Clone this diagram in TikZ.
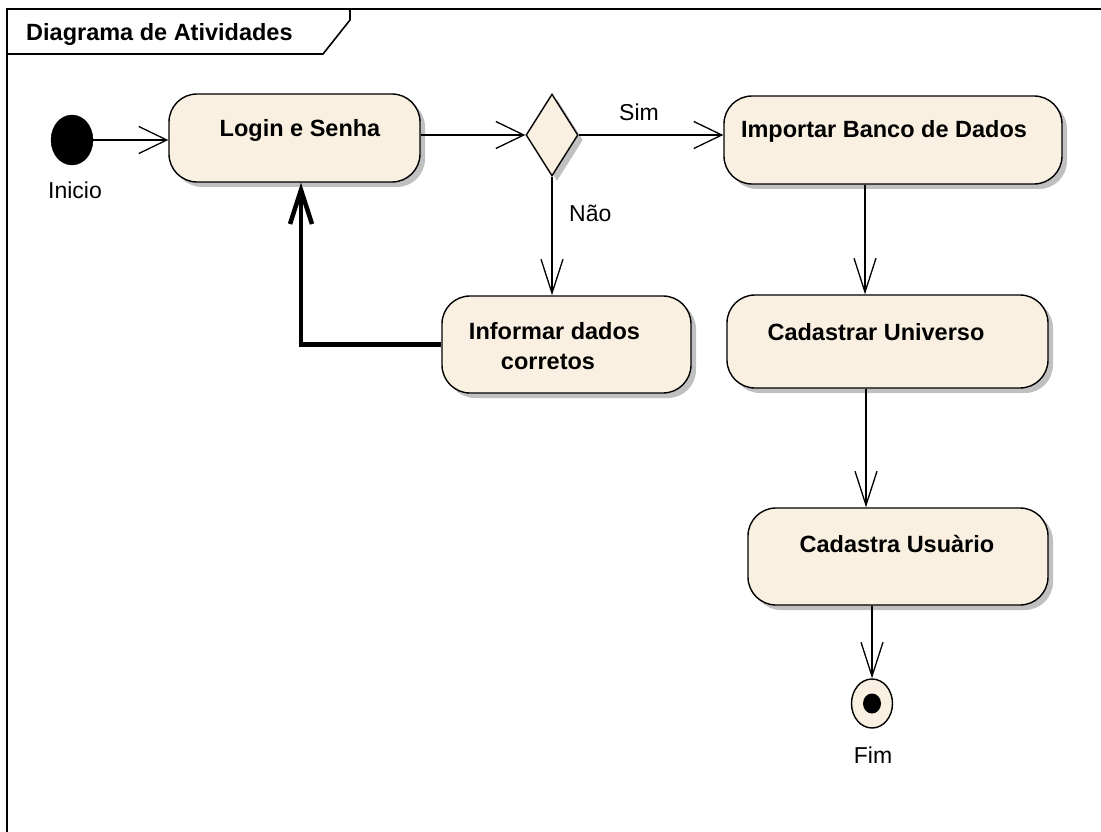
\documentclass[tikz,border=0pt]{standalone}
\usepackage{fontspec}
\setmainfont{Liberation Sans}
\usetikzlibrary{arrows.meta,shapes.geometric,shadows,calc}
\definecolor{cream}{HTML}{FAF0E1}
\definecolor{shade}{HTML}{C0C0C0}
\tikzset{
  act/.style={draw=black,line width=1.4pt,fill=cream,rounded corners=28pt,
    minimum width=#1,inner sep=0pt,
    drop shadow={shadow xshift=5pt,shadow yshift=-5pt,fill=shade,opacity=1}},
  btxt/.style={font=\fontsize{23.5}{28}\selectfont\bfseries,anchor=base,inner sep=0pt},
  rtxt/.style={font=\fontsize{23}{28}\selectfont,anchor=base,inner sep=0pt},
  conn/.style={line width=1.3pt},
  harr/.style={conn,-{Straight Barb[length=28pt,width=27pt]}},
  varr/.style={conn,-{Straight Barb[length=34pt,width=22pt]}},
}
\begin{document}
\begin{tikzpicture}[x=1pt,y=-1pt]
\useasboundingbox (0,0) rectangle (1101,832);
\fill[white] (0,0) rectangle (1101,832);
% frame
\draw[line width=2pt] (7,845) -- (7,9) -- (1115,9);
\draw[line width=1.6pt] (7,54) -- (323,54) -- (350,20) -- (350,9);
\node[btxt,anchor=base west] (title) at (26,41) {Diagrama de Atividades};
% nodes
\node[draw,ellipse,fill=black,minimum width=42pt,minimum height=50pt,inner sep=0pt] (start) at (72,140) {};
\node[rtxt] (inicio) at (75,199) {Inicio};
\node[act=251pt,minimum height=88pt] (login) at (294.5,138) {};
\node[btxt] (logint) at (300,137) {Login e Senha};
\node[draw,diamond,line width=1.4pt,fill=cream,minimum width=52pt,minimum height=82pt,inner sep=0pt,
  drop shadow={shadow xshift=5pt,shadow yshift=-5pt,fill=shade,opacity=1}] (dia) at (552,135) {};
\node[act=338pt,minimum height=88pt] (imp) at (893,140) {};
\node[btxt] (impt) at (884,138) {Importar Banco de Dados};
\node[act=249pt,minimum height=97pt] (inf) at (566.5,344.5) {};
\node[btxt] (inft1) at (554.5,339) {Informar dados};
\node[btxt] (inft2) at (548,369) {corretos};
\node[act=321pt,minimum height=93pt] (uni) at (887.5,341.5) {};
\node[btxt] (unit) at (876,340) {Cadastrar Universo};
\node[act=300pt,minimum height=97pt] (usu) at (898,556.5) {};
\node[btxt] (usut) at (897,552) {Cadastra Usuàrio};
\node[draw,ellipse,line width=1.4pt,fill=cream,minimum width=41pt,minimum height=49pt,inner sep=0pt] (fim) at (872,703.5) {};
\node[ellipse,fill=black,minimum width=18pt,minimum height=20pt,inner sep=0pt] (fimdot) at (fim.center) {};
\node[rtxt] (fimt) at (873,763) {Fim};
\node[rtxt] (sim) at (639,121) {Sim};
\node[rtxt,anchor=base west] (nao) at (569,222) {Não};
% connectors
\draw[harr] (start.east) -- (start.east -| login.west);
\draw[harr] (dia.west -| login.east) -- (dia.west);
\draw[harr] (dia.east) -- (dia.east -| imp.west);
\draw[varr] (dia.south) -- (dia.south |- inf.north);
\draw[line width=4.5pt,-{Straight Barb[length=34pt,width=22pt]}] (inf.west) -| ([xshift=6.5pt]login.south);
\draw[varr] ([xshift=-28pt]imp.south) -- ([xshift=-28pt]imp.south |- uni.north);
\draw[varr] ([xshift=-21.5pt]uni.south) -- ([xshift=-21.5pt]uni.south |- usu.north);
\draw[varr] (usu.south -| fim.north) -- (fim.north);
\end{tikzpicture}
\end{document}
